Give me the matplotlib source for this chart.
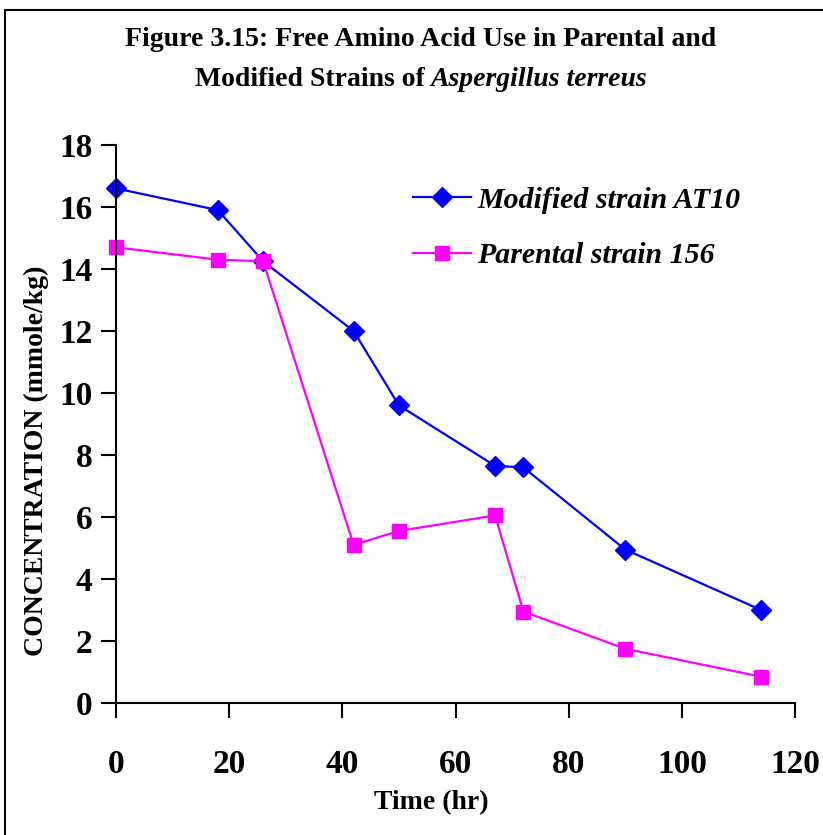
import matplotlib
matplotlib.use("Agg")
import matplotlib.pyplot as plt
from matplotlib.patches import Rectangle

# Sampling times (hr) and free amino acid concentrations (mmole/kg)
time_modified = [0, 18, 26, 42, 50, 67, 72, 90, 114]
conc_modified = [16.6, 15.9, 14.25, 12.0, 9.6, 7.65, 7.6, 4.95, 3.0]

time_parental = [0, 18, 26, 42, 50, 67, 72, 90, 114]
conc_parental = [14.7, 14.3, 14.25, 5.1, 5.55, 6.05, 2.95, 1.75, 0.85]

x_ticks = [0, 20, 40, 60, 80, 100, 120]
y_ticks = [0, 2, 4, 6, 8, 10, 12, 14, 16, 18]

W, H = 823, 835
plt.rcParams["font.family"] = ["Liberation Serif", "DejaVu Serif"]
plt.rcParams["font.weight"] = "bold"

fig = plt.figure(figsize=(W / 100, H / 100), dpi=100)

# outer chart frame
fig.patches.append(Rectangle((5 / W, -0.1), 1.2, 1 - 10 / H + 0.1,
                             transform=fig.transFigure, fill=False,
                             edgecolor="black", linewidth=1.5))

ax = fig.add_axes([116 / W, 1 - 703 / H, (795 - 116) / W, (703 - 145) / H])

ax.plot(time_modified, conc_modified, color="#0000FF", linewidth=1.6,
        marker="D", markersize=10, markerfacecolor="#0000FF",
        markeredgecolor="#0000FF", label="Modified strain AT10", clip_on=False)
ax.plot(time_parental, conc_parental, color="#FF00FF", linewidth=1.6,
        marker="s", markersize=9.5, markerfacecolor="#FF00FF",
        markeredgecolor="#FF00FF", label="Parental strain 156", clip_on=False)

ax.set_xlim(0, 120)
ax.set_ylim(0, 18)
ax.set_xticks(x_ticks)
ax.set_yticks(y_ticks)
ax.set_xticklabels([str(v) for v in x_ticks], fontsize=24, fontweight="bold")
ax.set_yticklabels([str(v) for v in y_ticks], fontsize=24, fontweight="bold")
ax.tick_params(axis="x", direction="out", length=11, width=1.5, pad=22)
ax.tick_params(axis="y", direction="out", length=11, width=1.5, pad=6)

for side in ("top", "right"):
    ax.spines[side].set_visible(False)
for side in ("left", "bottom"):
    ax.spines[side].set_linewidth(1.5)

# axis titles
fig.text(431 / W, 1 - 803 / H, "Time (hr)", ha="center", va="center",
         fontsize=20, fontweight="bold")
fig.text(36 / W, 1 - 461 / H, "CONCENTRATION (mmole/kg)", ha="center",
         va="center", rotation=90, fontsize=20, fontweight="bold")

# chart title, second line mixes upright and italic text
title_size = 20
cx = 421 / W
fig.text(cx, 1 - 40 / H, "Figure 3.15: Free Amino Acid Use in Parental and",
         ha="center", va="center", fontsize=title_size, fontweight="bold")
part_a = fig.text(0, 1 - 80 / H, "Modified Strains of", ha="left",
                  va="center", fontsize=title_size, fontweight="bold")
part_b = fig.text(0, 1 - 80 / H, "Aspergillus terreus", ha="left",
                  va="center", fontsize=title_size, fontweight="bold",
                  fontstyle="italic")
renderer = fig.canvas.get_renderer()
wa = part_a.get_window_extent(renderer).width
wb = part_b.get_window_extent(renderer).width
gap = 6
x0 = cx * W - (wa + gap + wb) / 2
part_a.set_x(x0 / W)
part_b.set_x((x0 + wa + gap) / W)

leg = ax.legend(loc="upper left", bbox_to_anchor=(398 / W, 1 - 172 / H),
                bbox_transform=fig.transFigure, frameon=False, borderpad=0,
                prop={"size": 21.5, "weight": "bold", "style": "italic"},
                handlelength=1.95, labelspacing=0.95, handletextpad=0.2)

fig.savefig("out.png", dpi=100)
